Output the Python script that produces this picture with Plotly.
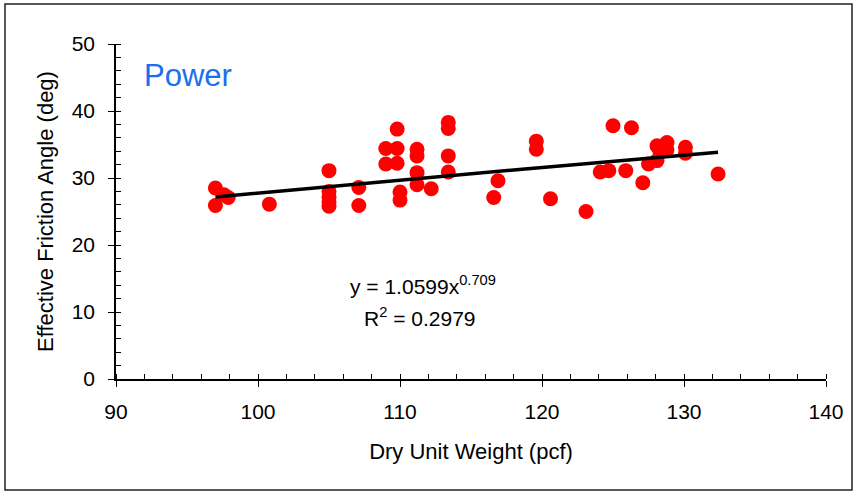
import plotly.graph_objects as go
import numpy as np

# Data
dry_unit_weight = [97.0, 97.0, 97.6, 97.9, 100.8,
                   105.0, 105.0, 105.0, 105.0, 105.0,
                   107.1, 107.1,
                   109.0, 109.0, 109.8, 109.8, 109.8, 110.0, 110.0,
                   111.2, 111.2, 111.2, 111.2, 112.2,
                   113.4, 113.4, 113.4, 113.4,
                   116.6, 116.9, 119.6, 119.6, 120.6, 123.1,
                   124.1, 124.7, 125.0, 125.9, 126.3, 127.1, 127.5,
                   128.1, 128.1, 128.3, 128.8, 128.8, 130.1, 130.1, 132.4]
friction_angle = [28.5, 25.9, 27.5, 27.1, 26.1,
                  31.1, 28.0, 27.1, 26.4, 25.8,
                  28.6, 25.9,
                  34.4, 32.1, 37.3, 34.4, 32.2, 27.9, 26.7,
                  34.3, 33.3, 30.8, 29.0, 28.4,
                  38.3, 37.4, 33.3, 30.9,
                  27.1, 29.6, 35.5, 34.3, 26.9, 25.0,
                  30.9, 31.1, 37.8, 31.1, 37.5, 29.3, 32.1,
                  32.6, 34.8, 34.0, 35.3, 34.2, 34.6, 33.7, 30.6]

# Power trendline coefficients shown on the chart
fit_a = 1.0599
fit_b = 0.709

x_ticks = [90, 100, 110, 120, 130, 140]
y_ticks = [0, 10, 20, 30, 40, 50]

FONT = "Liberation Sans, Arial, sans-serif"

xs = np.linspace(min(dry_unit_weight), max(dry_unit_weight), 60)
ys = fit_a * xs ** fit_b

fig = go.Figure()
fig.add_trace(go.Scatter(x=dry_unit_weight, y=friction_angle, mode="markers",
                         marker=dict(color="#ff0000", size=15, line=dict(width=0)),
                         showlegend=False, hoverinfo="x+y"))
fig.add_trace(go.Scatter(x=xs, y=ys, mode="lines",
                         line=dict(color="black", width=3.5),
                         showlegend=False, hoverinfo="skip"))
# helper trace for the inner half of crossing major ticks
fig.add_trace(go.Scatter(x=[None], y=[None], xaxis="x2", yaxis="y2",
                         showlegend=False, hoverinfo="skip"))

axis_common = dict(showgrid=False, zeroline=False, showline=True,
                   linecolor="black", linewidth=1.5, tickcolor="black",
                   tickwidth=1.3, tickfont=dict(family=FONT, size=21, color="black"))

fig.update_layout(
    width=856, height=494,
    margin=dict(l=116, r=30, t=44, b=115),
    paper_bgcolor="white", plot_bgcolor="white",
    font=dict(family=FONT, color="black"),
    xaxis=dict(range=[90, 140], tickvals=x_ticks, ticks="outside", ticklen=6,
               ticklabelstandoff=7,
               minor=dict(dtick=2, ticks="inside", ticklen=5, tickcolor="black", tickwidth=1.2),
               title=dict(text="Dry Unit Weight (pcf)", font=dict(family=FONT, size=22), standoff=22),
               **axis_common),
    yaxis=dict(range=[0, 50], tickvals=y_ticks, ticks="outside", ticklen=6,
               ticklabelstandoff=9,
               minor=dict(dtick=2, ticks="inside", ticklen=5, tickcolor="black", tickwidth=1.2),
               title=dict(text="Effective Friction Angle (deg)", font=dict(family=FONT, size=22), standoff=12),
               **axis_common),
    xaxis2=dict(range=[90, 140], overlaying="x", anchor="y", side="bottom",
                tickvals=x_ticks, ticks="inside", ticklen=5, tickcolor="black", tickwidth=1.3,
                showticklabels=False, showgrid=False, zeroline=False, showline=False),
    yaxis2=dict(range=[0, 50], overlaying="y", anchor="x", side="left",
                tickvals=y_ticks, ticks="inside", ticklen=5, tickcolor="black", tickwidth=1.3,
                showticklabels=False, showgrid=False, zeroline=False, showline=False),
    annotations=[
        dict(text="Power", x=0.036, y=0.905, xref="paper", yref="paper",
             xanchor="left", yanchor="middle", showarrow=False,
             font=dict(family=FONT, size=31, color="#1a6ff0")),
        dict(text="y = 1.0599x<sup>0.709</sup>", x=0.432, y=0.28, xref="paper", yref="paper",
             xanchor="center", yanchor="middle", showarrow=False,
             font=dict(family=FONT, size=21, color="black")),
        dict(text="R<sup>2</sup> = 0.2979", x=0.428, y=0.185, xref="paper", yref="paper",
             xanchor="center", yanchor="middle", showarrow=False,
             font=dict(family=FONT, size=21, color="black")),
    ],
    shapes=[
        dict(type="rect", xref="paper", yref="paper",
             x0=(5 - 116) / 710, x1=(852 - 116) / 710,
             y0=(379 - 490) / 335, y1=(379 - 4) / 335,
             line=dict(color="#222222", width=1.5), fillcolor="rgba(0,0,0,0)", layer="below"),
    ],
)

fig.write_html("out.html", config={"displayModeBar": False},
               post_script="document.body.style.margin='0';")
